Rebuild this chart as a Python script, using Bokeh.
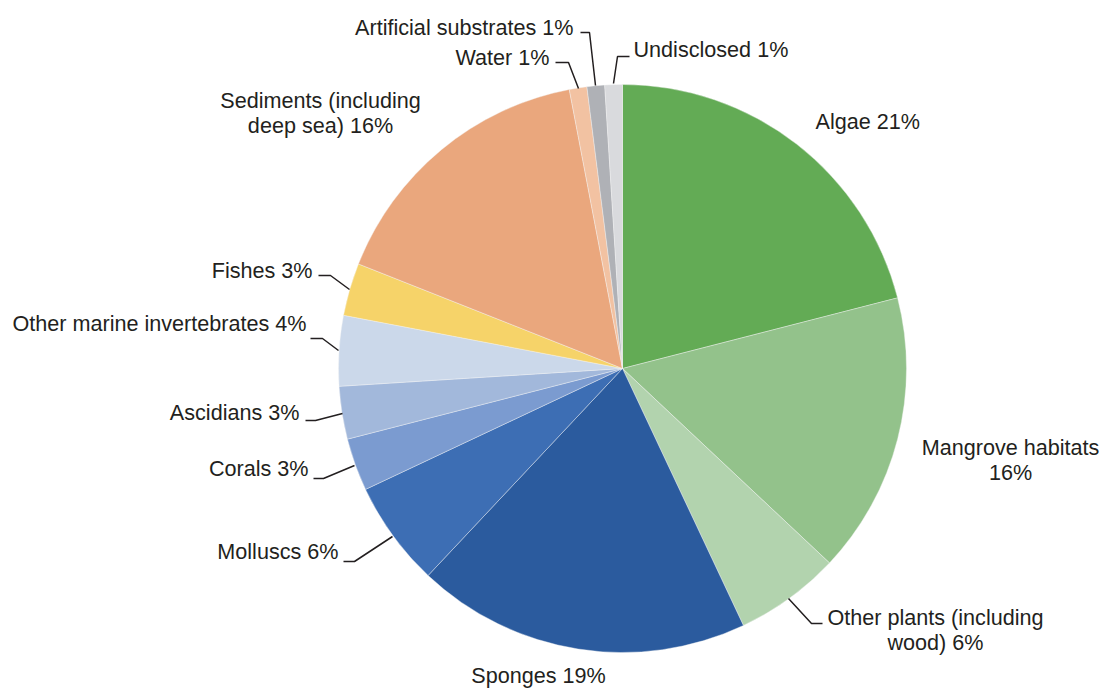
import math
from bokeh.plotting import figure
from bokeh.models import Range1d, ColumnDataSource
from bokeh.core.properties import value
from bokeh.embed import file_html
from bokeh.resources import INLINE

# ---- data ----
categories = ["Algae", "Mangrove habitats", "Other plants (including wood)", "Sponges",
              "Molluscs", "Corals", "Ascidians", "Other marine invertebrates", "Fishes",
              "Sediments (including deep sea)", "Water", "Artificial substrates", "Undisclosed"]
shares = [21, 16, 6, 19, 6, 3, 3, 4, 3, 16, 1, 1, 1]
colors = ["#63AB55", "#93C28B", "#B2D3AE", "#2B5B9E", "#3D6EB4", "#7B9BD0", "#A2B8DB",
          "#CBD8EA", "#F6D369", "#EAA77D", "#F2C2A2", "#AFB1B6", "#D9DADD"]

# label text lines per category
label_lines = [["Algae 21%"], ["Mangrove habitats", "16%"], ["Other plants (including", "wood) 6%"],
               ["Sponges 19%"], ["Molluscs 6%"], ["Corals 3%"], ["Ascidians 3%"],
               ["Other marine invertebrates 4%"], ["Fishes 3%"], ["Sediments (including", "deep sea) 16%"],
               ["Water 1%"], ["Artificial substrates 1%"], ["Undisclosed 1%"]]

# ---- layout (pixel coordinates, y down) ----
W, H = 1101, 689
CX, CY, R = 622, 368, 284
# (x, y of first line, align)
label_pos = [(815, 121, "left"), (1010, 447, "center"), (935, 617, "center"),
             (538, 675, "center"), (338, 551, "right"), (308, 468, "right"), (299, 412, "right"),
             (306, 323, "right"), (312, 270, "right"), (320, 100, "center"),
             (549, 57, "right"), (573, 27, "right"), (633, 49, "left")]
line_gap = 25
leaders = {
    "Other plants (including wood)": [(822, 623), (811, 623), (788, 598)],
    "Molluscs": [(343, 561), (354, 561), (392, 536)],
    "Corals": [(313, 478), (323, 478), (354, 465)],
    "Ascidians": [(305, 420), (315, 420), (342, 413)],
    "Other marine invertebrates": [(310, 338), (322, 338), (338, 350)],
    "Fishes": [(318, 275), (330, 275), (349, 289)],
    "Water": [(555, 62), (568, 62), (578, 88)],
    "Artificial substrates": [(580, 32), (589, 32), (595, 85)],
    "Undisclosed": [(629, 56), (617, 56), (613, 83)],
}

def fy(y):
    return H - y

p = figure(width=W, height=H, x_range=Range1d(0, W), y_range=Range1d(0, H),
           output_backend="svg", toolbar_location=None, min_border=0)
p.axis.visible = False
p.grid.visible = False
p.outline_line_color = None
p.background_fill_color = "white"

total = sum(shares)
starts, ends = [], []
cum = 0
for s in shares:
    starts.append(math.radians(90 - cum / total * 360))
    cum += s
    ends.append(math.radians(90 - cum / total * 360))

src = ColumnDataSource(dict(start=starts, end=ends, color=colors, cat=categories))
p.wedge(x=CX, y=fy(CY), radius=R, start_angle="start", end_angle="end", direction="clock",
        fill_color="color", line_color="#F4F4F4", line_width=0.4, source=src)

for name, pts in leaders.items():
    p.line([q[0] for q in pts], [fy(q[1]) for q in pts], line_color="#231F20", line_width=1.5)

tx, ty, tt, ta = [], [], [], []
for lines, (x, y, al) in zip(label_lines, label_pos):
    for i, ln in enumerate(lines):
        tx.append(x); ty.append(fy(y + i * line_gap)); tt.append(ln); ta.append(al)
tsrc = ColumnDataSource(dict(x=tx, y=ty, t=tt, a=ta))
p.text(x="x", y="y", text="t", text_align="a", text_baseline="middle", source=tsrc,
       text_font=value("Liberation Sans"), text_font_size="21.6px", text_color="#231F20")

open("out.html", "w").write(file_html(p, INLINE))
